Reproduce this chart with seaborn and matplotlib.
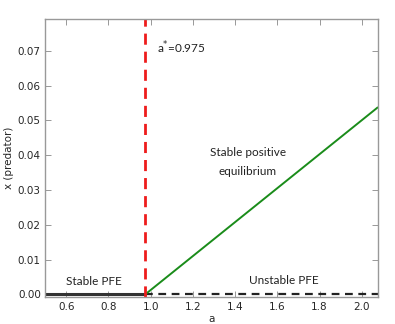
import matplotlib
matplotlib.use("Agg")
import matplotlib.pyplot as plt
import seaborn as sns
import pandas as pd

sns.set_style("white")
plt.rcParams['font.family'] = ['DejaVu Sans']

a_star = 0.975
stable_pfe_a = [0.5, 0.975]
stable_pfe_x = [0.0, 0.0]
unstable_pfe_a = [0.975, 2.075]
unstable_pfe_x = [0.0, 0.0]
positive_a = [0.975, 2.075]
positive_x = [0.0, 0.0537]
xticks = [0.6, 0.8, 1.0, 1.2, 1.4, 1.6, 1.8, 2.0]
yticks = [0.00, 0.01, 0.02, 0.03, 0.04, 0.05, 0.06, 0.07]

fig = plt.figure(figsize=(3.95, 3.24), dpi=100)
ax = fig.add_axes([0.114, 0.082, 0.842, 0.859])

sns.lineplot(x=stable_pfe_a, y=stable_pfe_x, ax=ax, color='#333333', lw=2.2)
sns.lineplot(x=unstable_pfe_a, y=unstable_pfe_x, ax=ax, color='#222222', lw=1.6, linestyle=(0, (3.5, 2.5)))
sns.lineplot(x=positive_a, y=positive_x, ax=ax, color='#1a8c1a', lw=1.4)
ax.axvline(a_star, color='#ee1c1c', lw=2.0, linestyle=(0, (4, 2.5)))

ax.set_xlim(0.5, 2.075)
ax.set_ylim(-0.0009, 0.0791)
ax.set_xticks(xticks)
ax.set_yticks(yticks)
ax.set_xticklabels([f"{v:.1f}" for v in xticks])
ax.set_yticklabels([f"{v:.2f}" for v in yticks])
ax.tick_params(direction='in', length=4, width=0.6, color='#888888', labelsize=7.5,
               top=True, right=True, bottom=True, left=True, pad=3)
for s in ax.spines.values():
    s.set_color('#999999')
    s.set_linewidth(1.0)

ax.set_xlabel('a', fontsize=7.5, labelpad=2)
ax.set_ylabel('x (predator)', fontsize=7.5, labelpad=3)

tf = dict(family='Lato', fontsize=8.5, color='#222222')
ax.text(1.03, 0.0710, r'a$^{*}$=0.975', va='center', ha='left', **tf)
ax.text(1.46, 0.0409, 'Stable positive', ha='center', va='center', **tf)
ax.text(1.46, 0.0352, 'equilibrium', ha='center', va='center', **tf)
ax.text(0.73, 0.0036, 'Stable PFE', ha='center', va='center', **tf)
ax.text(1.63, 0.0040, 'Unstable PFE', ha='center', va='center', **tf)

fig.savefig('out.png', dpi=100)
